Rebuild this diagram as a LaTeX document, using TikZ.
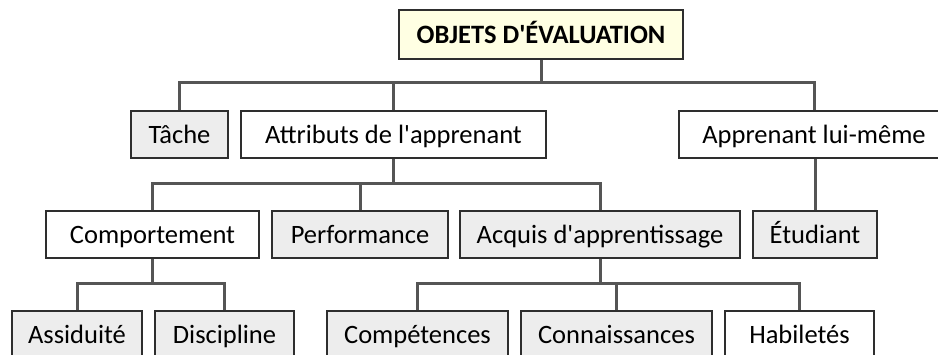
\documentclass[tikz,border=0pt]{standalone}
\usepackage{fontspec}
\newfontfamily\carl{Carlito}
\definecolor{boxgray}{HTML}{EDEDED}
\definecolor{boxyellow}{HTML}{FFFFE3}
\definecolor{linegray}{HTML}{555555}
\definecolor{bordergray}{HTML}{2E2E2E}
\begin{document}
\begin{tikzpicture}[x=1pt,y=-1pt,
  box/.style={draw=bordergray,line width=1.8pt,minimum height=47pt,inner sep=0pt,
    text height=19pt,text depth=1.4pt,
    font=\carl\fontsize{26.5}{30}\selectfont,text=black},
  graybox/.style={box,fill=boxgray},
  whitebox/.style={box,fill=white},
  topbox/.style={box,fill=boxyellow,line width=2.6pt,minimum height=49pt,
    font=\carl\fontsize{26.5}{30}\selectfont\bfseries},
  conn/.style={draw=linegray,line width=3pt}]
\useasboundingbox (0,0) rectangle (938,355);
\clip (0,0) rectangle (938,355);
% top
\node[topbox,minimum width=284pt] (top) at (541,34.5) {OBJETS D'ÉVALUATION};
% level 1
\node[graybox,minimum width=97pt] (tache) at (179.5,134.5) {Tâche};
\node[whitebox,minimum width=305pt] (attr) at (393.5,134.5) {Attributs de l'apprenant};
\node[whitebox,minimum width=270pt] (appr) at (814,134.5) {Apprenant lui-même};
% level 2
\node[whitebox,minimum width=213pt] (comp) at (152.5,234.5) {Comportement};
\node[graybox,minimum width=176pt] (perf) at (360,234.5) {Performance};
\node[graybox,minimum width=280pt] (acq) at (600,234.5) {Acquis d'apprentissage};
\node[graybox,minimum width=124pt] (etud) at (815,234.5) {Étudiant};
% level 3
\node[graybox,minimum width=130pt] (assi) at (77,334.5) {Assiduité};
\node[graybox,minimum width=139pt] (disc) at (224.5,334.5) {Discipline};
\node[graybox,minimum width=181pt] (compet) at (417.5,334.5) {Compétences};
\node[graybox,minimum width=191pt] (conn) at (616.5,334.5) {Connaissances};
\node[whitebox,minimum width=149pt] (habi) at (799.5,334.5) {Habiletés};
% junction levels
\coordinate (j0) at (0,83);
\coordinate (j1) at (0,184);
\coordinate (j2) at (0,284);
% connectors level 0 -> 1
\draw[conn] (top.south) -- (top.south |- j0);
\draw[conn] (tache.north) |- (appr.north |- j0) -- (appr.north);
\draw[conn] (attr.north) -- (attr.north |- j0);
% level 1 -> 2
\draw[conn] (attr.south) -- (attr.south |- j1);
\draw[conn] (comp.north) |- (acq.north |- j1) -- (acq.north);
\draw[conn] (perf.north) -- (perf.north |- j1);
\draw[conn] (etud.north) -- (etud.north |- appr.south);
% level 2 -> 3
\draw[conn] (comp.south) -- (comp.south |- j2);
\draw[conn] (assi.north) |- (disc.north |- j2) -- (disc.north);
\draw[conn] (acq.south) -- (acq.south |- j2);
\draw[conn] (compet.north) |- (habi.north |- j2) -- (habi.north);
\draw[conn] (conn.north) -- (conn.north |- j2);
\end{tikzpicture}
\end{document}
